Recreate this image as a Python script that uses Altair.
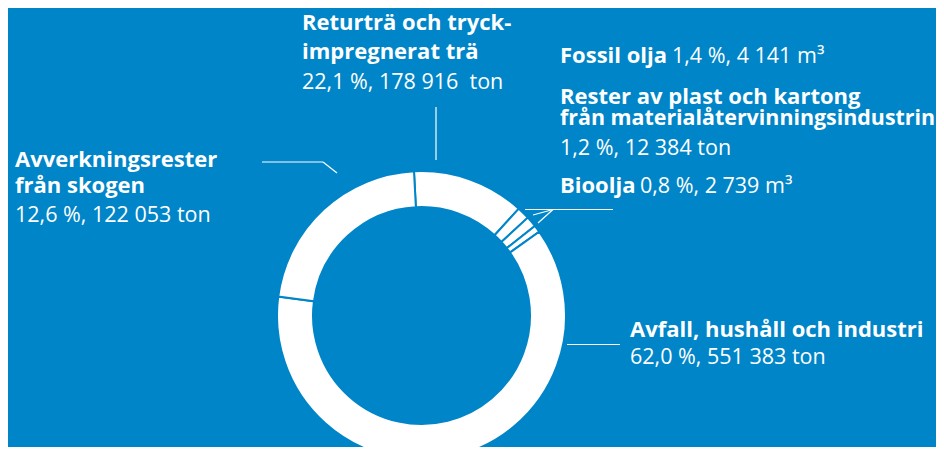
import altair as alt
import pandas as pd

# ---- data -----------------------------------------------------------------
# ring segments, clockwise from the top, as drawn (share of the ring, %)
slice_names = [
    "Returträ och tryckimpregnerat trä",
    "Fossil olja",
    "Rester av plast och kartong",
    "Bioolja",
    "Avfall, hushåll och industri",
    "Avverkningsrester från skogen",
]
slice_shares = [12.6, 1.4, 1.2, 0.8, 62.0, 22.1]

# label texts
retur_head = ["Returträ och tryck-", "impregnerat trä"]
retur_val = "22,1 %, 178 916\u00a0 ton"
fossil_head = "Fossil olja"
fossil_val = "1,4 %, 4 141 m³"
rester_head = ["Rester av plast och kartong", "från materialåtervinningsindustrin"]
rester_val = "1,2 %, 12 384 ton"
bio_head = "Bioolja"
bio_val = "0,8 %, 2 739 m³"
avverk_head = ["Avverkningsrester", "från skogen"]
avverk_val = "12,6 %, 122 053 ton"
avfall_head = "Avfall, hushåll och industri"
avfall_val = "62,0 %, 551 383 ton"

# ---- styling ---------------------------------------------------------------
BG = "#0085C8"
FONT = "Open Sans"
FS_B = 22
FS_R = 21.5
OX, OY = 8, 8  # page margin offset

ring = pd.DataFrame({"name": slice_names, "share": slice_shares,
                     "idx": list(range(len(slice_names)))})

donut = alt.Chart(ring).mark_arc(
    radius=144.5, radius2=108.5, color="white", stroke=BG, strokeWidth=2
).encode(
    theta=alt.Theta("share:Q", stack=True,
                    scale=alt.Scale(range=[-0.052, 6.2832 - 0.052])),
    order=alt.Order("idx:Q"),
    x=alt.value(421.5 - OX),
    y=alt.value(315.5 - OY),
)


def txt(s, x, y, bold, size=None):
    return alt.Chart(pd.DataFrame({"t": [s]})).mark_text(
        align="left", baseline="alphabetic", font=FONT,
        fontSize=size if size else (FS_B if bold else FS_R),
        fontWeight="bold" if bold else "normal", color="white",
    ).encode(x=alt.value(x - OX), y=alt.value(y - OY), text="t:N")


def seg(x1, y1, x2, y2):
    return alt.Chart(pd.DataFrame({"a": [0]})).mark_rule(
        color="white", strokeWidth=1.2
    ).encode(x=alt.value(x1 - OX), y=alt.value(y1 - OY),
             x2=alt.value(x2 - OX), y2=alt.value(y2 - OY))


layers = [donut]
# Returträ
layers += [txt(retur_head[0], 302, 30, True), txt(retur_head[1], 302, 59, True),
           txt(retur_val, 302, 89, False)]
# Fossil olja
layers += [txt(fossil_head, 560, 63, True), txt(fossil_val, 672, 63, False)]
# Rester
layers += [txt(rester_head[0], 560, 104, True),
           txt(rester_head[1], 560, 125, True, size=21.4),
           txt(rester_val, 560, 155, False)]
# Bioolja
layers += [txt(bio_head, 560, 193, True), txt(bio_val, 640, 193, False)]
# Avverkningsrester
layers += [txt(avverk_head[0], 15, 167, True), txt(avverk_head[1], 15, 193, True),
           txt(avverk_val, 15, 222, False)]
# Avfall
layers += [txt(avfall_head, 630, 337, True), txt(avfall_val, 630, 364, False)]

# leader lines
layers += [
    seg(436, 107, 436, 160),
    seg(262, 162, 323, 162), seg(323, 162, 337, 173),
    seg(525, 209.5, 613, 209.5), seg(553, 209.5, 533, 215), seg(553, 209.5, 538, 223),
    seg(567, 344.5, 620, 344.5),
]

chart = alt.layer(*layers).properties(
    width=928, height=439, autosize="none", padding=0, background=BG
).configure_view(stroke=None)

chart.save("out.html", embed_options={"renderer": "svg", "actions": False})
